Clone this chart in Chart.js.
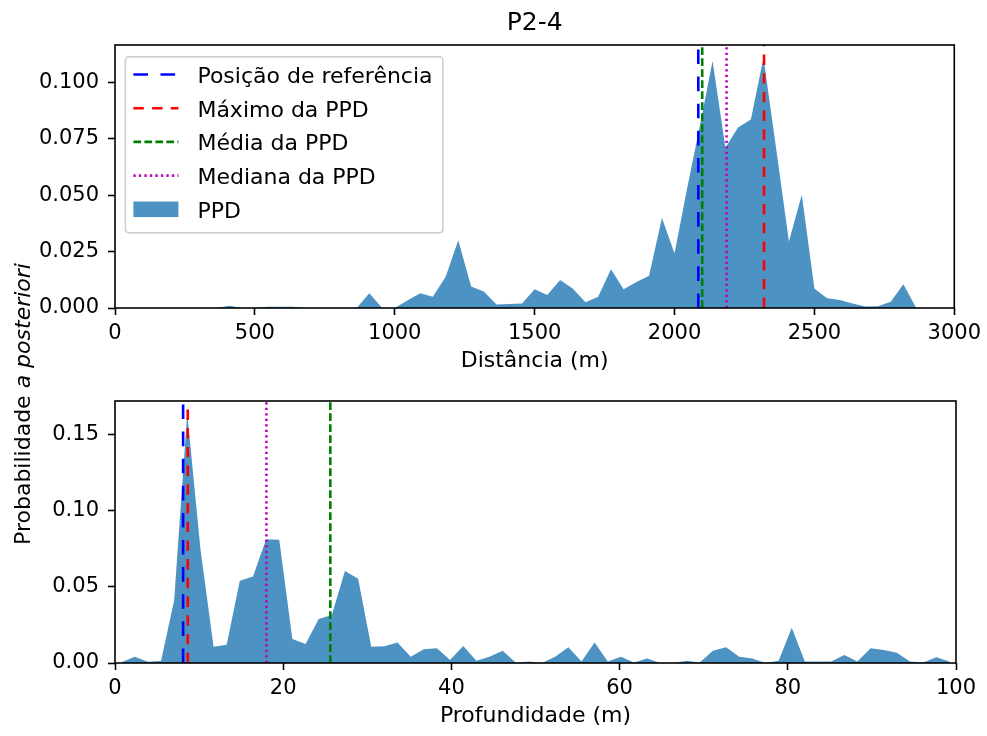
<!DOCTYPE html>
<html><head><meta charset="utf-8">
<script src="https://cdn.jsdelivr.net/npm/chart.js"></script>
<style>
html,body{margin:0;padding:0;background:#fff;}
#wrap{position:relative;width:987px;height:736px;}
canvas{position:absolute;left:0;top:0;}
</style></head><body>
<div id="wrap"><canvas id="c1" width="987" height="736"></canvas><canvas id="c2" width="987" height="736"></canvas></div>
<script>
// ---------- data ----------
const titleText = 'P2-4';
const distance = [0,45,91,136,182,227,273,318,364,409,455,500,545,591,636,682,727,773,818,864,909,955,1000,1045,1091,1136,1182,1227,1273,1318,1364,1409,1455,1500,1545,1591,1636,1682,1727,1773,1818,1864,1909,1955,2000,2045,2091,2136,2182,2227,2273,2318,2364,2409,2455,2500,2545,2591,2636,2682,2727,2773,2818,2864];
const ppdDistance = [0,0,0,0,0,0,0,0,0,0.001,0,0,0.0005,0.0005,0.0005,0,0,0,0,0,0.0065,0,0,0.0033,0.0065,0.005,0.0139,0.030,0.0095,0.0073,0.0016,0.0018,0.002,0.0083,0.0058,0.0124,0.0087,0.0025,0.005,0.0172,0.0083,0.0115,0.0143,0.0399,0.0243,0.053,0.081,0.1095,0.071,0.080,0.0836,0.111,0.070,0.0295,0.0502,0.0087,0.0043,0.0036,0.002,0.0007,0.0008,0.0028,0.0105,0];
const depth = [0.78,2.34,3.91,5.47,7.03,8.59,10.16,11.72,13.28,14.84,16.41,17.97,19.53,21.09,22.66,24.22,25.78,27.34,28.91,30.47,32.03,33.59,35.16,36.72,38.28,39.84,41.41,42.97,44.53,46.09,47.66,49.22,50.78,52.34,53.91,55.47,57.03,58.59,60.16,61.72,63.28,64.84,66.41,67.97,69.53,71.09,72.66,74.22,75.78,77.34,78.91,80.47,82.03,83.59,85.16,86.72,88.28,89.84,91.41,92.97,94.53,96.09,97.66,99.22];
const ppdDepth = [0.0005,0.0041,0.0009,0.0013,0.041,0.164,0.075,0.0107,0.012,0.054,0.0568,0.0814,0.081,0.0158,0.0125,0.029,0.0316,0.0605,0.0553,0.0107,0.011,0.0134,0.0041,0.009,0.0097,0.002,0.0112,0.0015,0.0041,0.0081,0.0002,0.001,0,0.0041,0.0103,0.001,0.0134,0.001,0.0041,0.0003,0.003,0,0,0.0014,0.0004,0.0081,0.0103,0.0041,0.003,0,0.0015,0.0232,0.001,0.001,0.001,0.0053,0.001,0.0097,0.0086,0.0068,0.001,0.0004,0.0037,0.001];
const markerNames = ['Posição de referência','Máximo da PPD','Média da PPD','Mediana da PPD'];
const markersDistance = [2085, 2320, 2099, 2186];
const markersDepth = [8.1, 8.65, 25.6, 18.0];
const areaLabel = 'PPD';
const distTicks = [0,500,1000,1500,2000,2500,3000];
const distTickLabels = ['0','500','1000','1500','2000','2500','3000'];
const probTicksTop = [0,0.025,0.05,0.075,0.1];
const probTickLabelsTop = ['0.000','0.025','0.050','0.075','0.100'];
const depthTicks = [0,20,40,60,80,100];
const depthTickLabels = ['0','20','40','60','80','100'];
const probTicksBottom = [0,0.05,0.1,0.15];
const probTickLabelsBottom = ['0.00','0.05','0.10','0.15'];
const xTitleTop = 'Distância (m)';
const xTitleBottom = 'Profundidade (m)';
const yTitleMain = 'Probabilidade ';
const yTitleItalic = 'a posteriori';

// ---------- styles ----------
const FONT = '"DejaVu Sans", Verdana, sans-serif';
const LABEL_SIZE = 22;
const markerColors = ['#0000ff','#ff0000','#008000','#bf00bf'];
const markerDashes = [[14.6,12.5],[10.4,8.3],[7.7,3.3],[2.3,3.2]];
const markerWidth = 2.6;
const areaColor = 'rgba(31,119,180,0.8)';

function markerDatasets(values, ymax){
  return values.map((v,i)=>({
    type:'line', label:markerNames[i],
    data:[{x:v,y:0},{x:v,y:ymax}],
    borderColor:markerColors[i], borderDash:markerDashes[i], borderWidth:markerWidth,
    borderCapStyle:'butt', pointRadius:0, fill:false, tension:0
  }));
}
function areaDataset(xs, ys){
  return {type:'line', label:areaLabel, data:xs.map((x,i)=>({x:x,y:ys[i]})),
    borderColor:'rgba(0,0,0,0)', borderWidth:0, backgroundColor:areaColor,
    fill:'origin', pointRadius:0, tension:0};
}
function xScale(min,max,ticks,labels,title,height,titlePad){
  return {type:'linear', min, max,
    afterBuildTicks:s=>{s.ticks=ticks.map(v=>({value:v}));},
    afterFit:s=>{s.height=height;},
    ticks:{autoSkip:false,maxRotation:0,minRotation:0,padding:6,color:'#000',font:{family:FONT,size:21},
      callback:(v,i)=>labels[i]},
    grid:{display:true,drawOnChartArea:false,drawTicks:true,tickLength:7,tickWidth:1.6,tickColor:'#000'},
    border:{display:false},
    title:{display:true,text:title,color:'#000',font:{family:FONT,size:LABEL_SIZE},padding:{top:0,bottom:titlePad}}
  };
}
function yScale(min,max,ticks,labels){
  return {type:'linear', min, max,
    afterBuildTicks:s=>{s.ticks=ticks.map(v=>({value:v}));},
    afterFit:s=>{s.width=115;},
    ticks:{autoSkip:false,padding:9,color:'#000',font:{family:FONT,size:21},callback:(v,i)=>labels[i]},
    grid:{display:true,drawOnChartArea:false,drawTicks:true,tickLength:7,tickWidth:1.6,tickColor:'#000'},
    border:{display:false}
  };
}
const framePlugin = {id:'frame', afterDatasetsDraw(chart){
  const {ctx, chartArea:a} = chart;
  ctx.save(); ctx.strokeStyle='#000'; ctx.lineWidth=1.6;
  ctx.strokeRect(a.left, a.top, a.right-a.left, a.bottom-a.top); ctx.restore();
}};
const legendPlugin = {id:'ppdLegend', afterDraw(chart){
  const ctx = chart.ctx, a = chart.chartArea;
  const x0 = a.left+10.4, y0 = a.top+11.7, w = 317.5, h = 176, r = 4;
  ctx.save();
  ctx.beginPath();
  ctx.moveTo(x0+r,y0); ctx.lineTo(x0+w-r,y0); ctx.quadraticCurveTo(x0+w,y0,x0+w,y0+r);
  ctx.lineTo(x0+w,y0+h-r); ctx.quadraticCurveTo(x0+w,y0+h,x0+w-r,y0+h);
  ctx.lineTo(x0+r,y0+h); ctx.quadraticCurveTo(x0,y0+h,x0,y0+h-r);
  ctx.lineTo(x0,y0+r); ctx.quadraticCurveTo(x0,y0,x0+r,y0); ctx.closePath();
  ctx.fillStyle='rgba(255,255,255,0.8)'; ctx.fill();
  ctx.strokeStyle='#cccccc'; ctx.lineWidth=1.5; ctx.stroke();
  const labels = markerNames.concat([areaLabel]);
  ctx.font = LABEL_SIZE+'px '+FONT; ctx.fillStyle='#000'; ctx.textAlign='left'; ctx.textBaseline='alphabetic';
  labels.forEach((lab,i)=>{
    const cy = y0 + 17.8 + 33.7*i;
    if(i<markerNames.length){
      ctx.save(); ctx.strokeStyle=markerColors[i]; ctx.lineWidth=markerWidth; ctx.lineCap='butt';
      ctx.setLineDash(markerDashes[i]); ctx.beginPath(); ctx.moveTo(x0+8,cy); ctx.lineTo(x0+53,cy); ctx.stroke(); ctx.restore();
    } else {
      ctx.fillStyle=areaColor; ctx.fillRect(x0+8, cy-7.8, 45, 15.6); ctx.fillStyle='#000';
    }
    ctx.fillText(lab, x0+72, cy+8.5);
  });
  ctx.restore();
}};
const ylabelPlugin = {id:'ylab', afterDraw(chart){
  const ctx = chart.ctx;
  ctx.save(); ctx.translate(29.5, 404); ctx.rotate(-Math.PI/2);
  ctx.fillStyle='#000'; ctx.textBaseline='alphabetic'; ctx.textAlign='left';
  const f1 = LABEL_SIZE+'px '+FONT, f2 = 'italic '+LABEL_SIZE+'px '+FONT;
  ctx.font=f1; const w1 = ctx.measureText(yTitleMain).width;
  ctx.font=f2; const w2 = ctx.measureText(yTitleItalic).width;
  const x = -(w1+w2)/2;
  ctx.font=f1; ctx.fillText(yTitleMain, x, 0);
  ctx.font=f2; ctx.fillText(yTitleItalic, x+w1, 0);
  ctx.restore();
}};

const yMaxTop = 0.1166, yMaxBottom = 0.1722;

new Chart(document.getElementById('c1'), {
  type:'line',
  data:{datasets: markerDatasets(markersDistance, yMaxTop).concat([areaDataset(distance, ppdDistance)])},
  options:{responsive:false, animation:false, devicePixelRatio:1,
    layout:{padding:{left:0,right:31,top:0,bottom:336}},
    plugins:{legend:{display:false}, tooltip:{enabled:false},
      title:{display:true,text:titleText,color:'#000',fullSize:false,font:{family:FONT,size:25,weight:'normal'},padding:{top:8.5,bottom:6.5}}},
    scales:{x:xScale(0,3000,distTicks,distTickLabels,xTitleTop,92,25.4),
            y:yScale(0,yMaxTop,probTicksTop,probTickLabelsTop)}
  },
  plugins:[framePlugin, legendPlugin, ylabelPlugin]
});
new Chart(document.getElementById('c2'), {
  type:'line',
  data:{datasets: markerDatasets(markersDepth, yMaxBottom).concat([areaDataset(depth, ppdDepth)])},
  options:{responsive:false, animation:false, devicePixelRatio:1,
    layout:{padding:{left:0,right:31,top:401,bottom:0}},
    plugins:{legend:{display:false}, tooltip:{enabled:false}, title:{display:false}},
    scales:{x:xScale(0,100,depthTicks,depthTickLabels,xTitleBottom,73,6.4),
            y:yScale(0,yMaxBottom,probTicksBottom,probTickLabelsBottom)}
  },
  plugins:[framePlugin]
});
</script>
</body></html>
